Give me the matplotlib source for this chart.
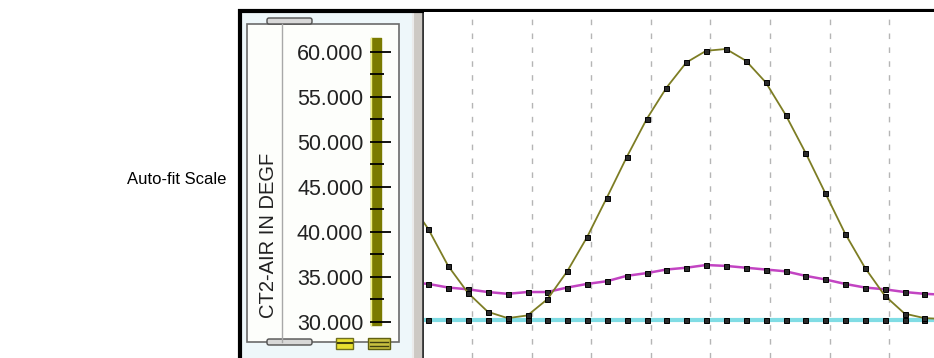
import numpy as np
import matplotlib.pyplot as plt
from matplotlib.patches import Rectangle, FancyBboxPatch

# sample index (index -1 and 26 are only partly visible at the edges)
idx = np.arange(-1, 27)

# CT2-AIR IN DEGF (olive trace)
olive = [43.5, 40.3, 36.2, 33.2, 31.1, 30.4, 30.7, 32.5, 35.6, 39.4, 43.8,
         48.3, 52.5, 56.0, 58.8, 60.1, 60.3, 59.0, 56.6, 53.0, 48.8,
         44.3, 39.8, 36.0, 32.9, 30.9, 30.4, 30.3]
# magenta trace
magenta = [34.4, 34.2, 33.8, 33.6, 33.3, 33.1, 33.3, 33.3, 33.8, 34.2, 34.5,
           35.1, 35.4, 35.8, 36.0, 36.3, 36.2, 36.0, 35.8, 35.6, 35.1,
           34.7, 34.2, 33.8, 33.6, 33.3, 33.1, 33.0]
# cyan trace
cyan = [30.2] * len(idx)

scale_ticks = [30, 35, 40, 45, 50, 55, 60]
scale_minor = [32.5, 37.5, 42.5, 47.5, 52.5, 57.5]
scale_labels = ['%.3f' % v for v in scale_ticks]

W, H = 934, 358
fig = plt.figure(figsize=(W / 100, H / 100), dpi=100)
fig.patch.set_facecolor('white')

# background layer in pixel coordinates
bg = fig.add_axes([0, 0, 1, 1], zorder=0)
bg.set_xlim(0, W)
bg.set_ylim(H, 0)
bg.axis('off')

bg.text(177, 180, 'Auto-fit Scale', fontsize=12, family='Liberation Sans',
        ha='center', va='center')

# panel background
bg.add_patch(Rectangle((240, 11), 174, 347, facecolor='#eef7fa', edgecolor='none'))
# inner box
bg.add_patch(Rectangle((247, 24), 152, 318, facecolor='#fdfefb', edgecolor='#6a6a6a', lw=1.2))
bg.plot([282, 282], [24, 342], color='#a8a8a8', lw=1)
# slider handles
for yy in (18, 339):
    bg.add_patch(FancyBboxPatch((267, yy), 45, 6, boxstyle='round,pad=0,rounding_size=2',
                                facecolor='#d8d8d8', edgecolor='#505050', lw=1))
# small buttons at bottom
bg.add_patch(Rectangle((336, 338), 17, 11, facecolor='#e8e030', edgecolor='#707020', lw=1))
bg.plot([338, 352], [343, 343], color='#404010', lw=1.5)
bg.add_patch(Rectangle((368, 338), 22, 11, facecolor='#c8c040', edgecolor='#606010', lw=1))
bg.plot([370, 388], [342, 342], color='#404010', lw=1)
bg.plot([370, 388], [346, 346], color='#404010', lw=1)
# separator
bg.add_patch(Rectangle((412, 11), 10, 347, facecolor='#cdc9c4', edgecolor='none'))
bg.plot([413, 413], [11, 358], color='#ebebeb', lw=1.5)
bg.plot([423, 423], [11, 358], color='#353535', lw=2)
# outer black frame
bg.plot([238, W], [10.5, 10.5], color='black', lw=3, solid_capstyle='butt')
bg.plot([239.5, 239.5], [9, H], color='black', lw=3, solid_capstyle='butt')

# value mapping: 60 -> 51.7 px, 30 -> 321.7 px
ylo, yhi = 25.97, 64.41
top_frac = 1 - 12 / H

# scale axis (olive bar + ticks)
sc = fig.add_axes([369 / W, 0, 22 / W, top_frac], zorder=2)
sc.set_facecolor('none')
sc.set_xlim(0, 1)
sc.set_ylim(ylo, yhi)
for s in sc.spines.values():
    s.set_visible(False)
sc.fill_betweenx([29.6, 61.5], 0.09, 0.545, color='#7a7a00')
sc.plot([0.07, 0.07], [29.6, 61.5], color='#f0f080', lw=1)
sc.hlines(scale_ticks, 0.05, 1.0, color='black', lw=1.3)
sc.hlines(scale_minor, 0.05, 0.7, color='black', lw=1.3)
sc.set_xticks([])
sc.set_yticks(scale_ticks)
sc.set_yticklabels(scale_labels, fontsize=15.5, family='Liberation Sans', color='#222222')
sc.tick_params(axis='y', length=0, pad=4)
sc.text(-4.55, 39.6, 'CT2-AIR IN DEGF', rotation=90, fontsize=14.5, family='Liberation Sans',
        ha='center', va='center', color='#222222', transform=sc.transData)

# main plot area
ax = fig.add_axes([424 / W, 0, 510 / W, top_frac], zorder=1)
ax.set_facecolor('white')
ax.set_xlim(-0.217, 25.48)
ax.set_ylim(ylo, yhi)
for s in ax.spines.values():
    s.set_visible(False)
ax.set_xticks(np.arange(2.217, 25, 3))
ax.set_yticks([])
ax.tick_params(axis='x', length=0, labelbottom=False)
ax.grid(axis='x', color='#b5b5b5', linestyle=(0, (4, 6)), lw=1)

mk = dict(marker='s', ms=3.6, mfc='#2a2a2a', mec='black', mew=0.7)
ax.plot(idx, cyan, color='#80dce4', lw=3, **mk)
ax.plot(idx, magenta, color='#c244c2', lw=1.8, **mk)
ax.plot(idx, olive, color='#7d7d24', lw=1.3, **mk)

plt.savefig('out.png', dpi=100)
